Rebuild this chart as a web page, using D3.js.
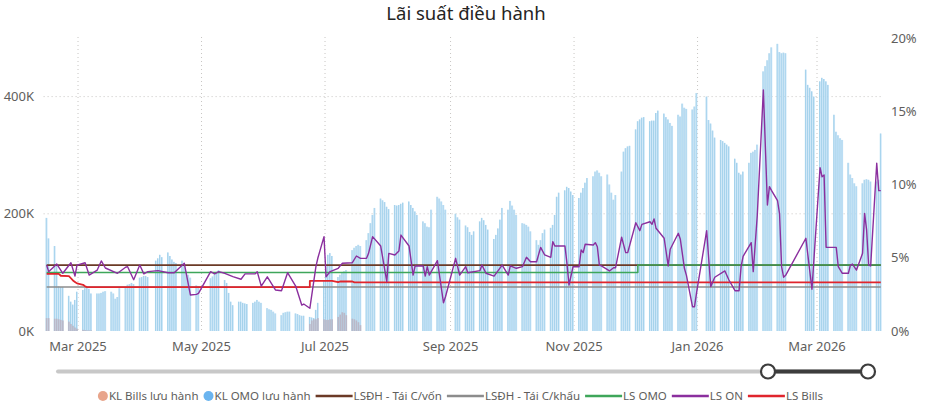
<!DOCTYPE html>
<html>
<head>
<meta charset="utf-8">
<script src="https://cdn.jsdelivr.net/npm/d3@7"></script>
<style>
body { margin: 0; background: #fff; }
svg text { font-family: "Segoe UI", "Noto Sans", sans-serif; }
</style>
</head>
<body>
<script>
// ---- DATA ----
const firstDay = "2025-02-13";
const lastDay = "2026-04-01";
const holidays = ["2025-04-07", "2025-04-30", "2025-05-01", "2025-05-02", "2025-09-01", "2025-09-02",
  "2026-01-01", "2026-01-02", "2026-02-16", "2026-02-17", "2026-02-18", "2026-02-19", "2026-02-20"];

// KL OMO lưu hành (nghìn tỷ), one value per trading day, rows = weeks
const omoOutstanding = [
  193, 158,
  145, 112, 76, 75, 75,
  60, 50, 45, 53, 67,
  70, 73, 75, 72, 64,
  64, 64, 65, 67, 68,
  67, 64, 55, 58, 73,
  75, 79, 80, 82, 80,
  91, 92, 94, 94, 92,
  120, 124, 130, 126,
  134, 128, 122, 118, 116,
  120, 113, 101, 96, 91,
  78, 76,
  90, 93, 97, 101, 104,
  87, 82, 65, 50, 44,
  50, 50, 48, 47, 46,
  48, 50, 53, 50, 48,
  39, 37, 36, 33, 30,
  27, 31, 32, 33, 33,
  30, 29, 27, 26, 26,
  24, 23, 22, 36, 48,
  87, 110, 130, 133, 128,
  92, 96, 100, 102, 104,
  138, 142, 145, 147, 145,
  155, 167, 184, 198, 210,
  226, 223, 220, 212, 208,
  215, 214, 215, 217, 219,
  221, 215, 210, 204, 198,
  187, 184, 178, 177, 207,
  229, 226, 221, 215, 207,
  200, 194, 190,
  180, 177, 169, 164, 170,
  187, 193, 189, 181, 173,
  157, 164, 175, 190, 210,
  207, 222, 214, 207, 198,
  184, 183, 181, 178, 170,
  155, 147, 155, 167, 173,
  176, 181, 198, 229, 236,
  240, 246, 244, 238, 232,
  227, 236, 244, 253, 261,
  264, 272, 274, 270, 264,
  267, 250, 236, 224, 232,
  272, 306, 312, 315, 316,
  344, 358, 361, 364, 365,
  358, 359, 359, 372, 376,
  371, 365, 361, 355, 350,
  369, 366, 388, 381, 379,
  378, 383, 406,
  400, 360, 354, 342, 330,
  326, 324, 321, 318, 315,
  294, 287, 270, 267, 272,
  287, 304, 306, 309, 318,
  443, 452, 462, 474, 484,
  490, 476, 474, 475, 474,
  446, 420, 415, 409, 400,
  426, 432, 430, 426, 420,
  369, 340, 334, 329, 326,
  287, 267, 261, 252, 247,
  252, 258, 259, 258, 255,
  255, 258, 337
];

// KL Bills lưu hành: two runs of consecutive trading days
const billsEarlyStart = "2025-02-13";
const billsEarly = [22, 22, 21, 21, 20, 19, 18, 16, 12, 9, 6, 4, 2, 1.5, 1, 1, 1];
const billsMidStart = "2025-06-23";
const billsMid = [12, 18, 20, 20, 22, 20, 19, 19, 20, 20, 24, 28, 32, 31, 27, 21, 20, 18, 15, 10];

// LS ON (%)
const onDates = ["2025-02-13", "2025-02-14", "2025-02-18", "2025-02-21", "2025-02-25", "2025-02-27", "2025-02-28",
  "2025-03-04", "2025-03-06", "2025-03-10", "2025-03-12", "2025-03-14", "2025-03-20", "2025-03-24", "2025-03-25",
  "2025-03-28", "2025-03-31", "2025-04-02", "2025-04-04", "2025-04-09", "2025-04-14", "2025-04-17", "2025-04-22",
  "2025-04-25", "2025-04-28", "2025-04-29", "2025-05-05", "2025-05-07", "2025-05-09", "2025-05-12", "2025-05-16",
  "2025-05-20", "2025-05-22", "2025-05-27", "2025-05-28", "2025-05-30", "2025-06-02", "2025-06-06", "2025-06-09",
  "2025-06-12", "2025-06-16", "2025-06-19", "2025-06-20", "2025-06-23", "2025-06-26", "2025-06-27", "2025-06-30",
  "2025-07-01", "2025-07-03", "2025-07-07", "2025-07-09", "2025-07-14", "2025-07-16", "2025-07-18", "2025-07-21",
  "2025-07-22", "2025-07-24", "2025-07-28", "2025-07-31", "2025-08-01", "2025-08-04", "2025-08-06", "2025-08-07",
  "2025-08-11", "2025-08-13", "2025-08-14", "2025-08-18", "2025-08-19", "2025-08-20", "2025-08-21", "2025-08-25",
  "2025-08-28", "2025-08-29", "2025-09-03", "2025-09-05", "2025-09-08", "2025-09-09", "2025-09-15", "2025-09-16",
  "2025-09-18", "2025-09-22", "2025-09-26", "2025-09-29", "2025-09-30", "2025-10-03", "2025-10-06", "2025-10-08",
  "2025-10-10", "2025-10-13", "2025-10-15", "2025-10-17", "2025-10-20", "2025-10-21", "2025-10-22", "2025-10-27",
  "2025-10-28", "2025-10-29", "2025-10-31", "2025-11-03", "2025-11-04", "2025-11-05", "2025-11-06", "2025-11-10",
  "2025-11-11", "2025-11-12", "2025-11-13", "2025-11-14", "2025-11-18", "2025-11-20", "2025-11-21", "2025-11-24",
  "2025-11-26", "2025-11-27", "2025-12-01", "2025-12-03", "2025-12-04", "2025-12-08", "2025-12-09", "2025-12-10",
  "2025-12-11", "2025-12-15", "2025-12-17", "2025-12-18", "2025-12-22", "2025-12-23", "2025-12-25", "2025-12-26",
  "2025-12-29", "2025-12-30", "2025-12-31", "2026-01-05", "2026-01-07", "2026-01-09", "2026-01-14", "2026-01-16",
  "2026-01-19", "2026-01-21", "2026-01-22", "2026-01-23", "2026-01-27", "2026-01-28", "2026-01-30", "2026-02-02",
  "2026-02-04", "2026-02-05", "2026-02-06", "2026-02-09", "2026-02-10", "2026-02-11", "2026-02-12", "2026-02-13",
  "2026-02-23", "2026-02-26", "2026-03-02", "2026-03-03", "2026-03-04", "2026-03-05", "2026-03-10", "2026-03-11",
  "2026-03-13", "2026-03-16", "2026-03-17", "2026-03-18", "2026-03-20", "2026-03-23", "2026-03-24", "2026-03-25",
  "2026-03-26", "2026-03-27", "2026-03-30", "2026-03-31", "2026-04-01"];
const onRates = [4.5, 4.05, 4.57, 3.94, 4.66, 3.75, 4.5,
  4.66, 3.82, 4.16, 4.78, 4.3, 3.94, 4.35, 4.39,
  3.5, 4.5, 3.9, 4.05, 4.12, 3.98, 3.98, 4.62,
  2.46, 2.5, 2.57, 4.05, 3.9, 4.05, 3.94, 3.71,
  3.53, 3.9, 3.9, 4.05, 3.07, 3.7, 2.8, 2.75,
  3.98, 3.07, 1.77, 1.84, 1.55, 4.39, 5.0, 6.44,
  3.7, 4.05, 4.28, 4.62, 4.66, 5.12, 4.96, 4.96,
  5.3, 6.44, 5.8, 3.37, 5.3, 5.19, 5.46, 6.55,
  5.8, 3.82, 4.44, 4.44, 3.75, 4.39, 3.82, 4.8,
  1.93, 2.34, 4.96, 3.82, 4.39, 3.98, 4.12, 4.5,
  3.94, 3.75, 4.5, 3.82, 4.44, 4.28, 4.39, 5.03,
  4.73, 4.73, 5.71, 5.19, 5.03, 6.1, 5.8, 5.8,
  4.62, 3.14, 4.39, 4.39, 5.53, 5.35, 5.92, 5.87,
  6.03, 5.75, 4.5, 4.44, 4.1, 4.32, 4.32, 6.4,
  5.35, 5.35, 7.39, 6.85, 7.28, 7.46, 7.28, 7.65,
  7.01, 6.33, 4.44, 5.58, 6.67, 6.26, 4.28, 3.8,
  1.66, 1.66, 2.6, 6.85, 3.03, 3.67, 4.1, 3.48,
  2.75, 2.75, 4.39, 5.1, 6.03, 4.05, 7.9, 16.45,
  8.6, 9.85, 9.6, 8.9, 8.0, 4.39, 3.67, 3.8,
  6.33, 2.85, 11.15, 10.53, 10.65, 5.71, 5.71, 4.39,
  3.94, 3.94, 4.5, 4.57, 4.16, 5.3, 8.03, 6.9,
  4.5, 4.44, 11.45, 9.58, 9.58];

// LS Bills (%)
const billsRateDates = ["2025-02-13", "2025-02-19", "2025-02-20", "2025-02-24", "2025-02-25", "2025-02-26", "2025-02-27",
  "2025-02-28", "2025-03-03", "2025-03-04", "2025-03-05", "2025-06-23", "2025-06-23", "2025-07-04", "2025-07-07",
  "2025-07-08", "2025-07-14", "2025-07-15", "2026-04-01"];
const billsRates = [3.9, 3.9, 3.77, 3.75, 3.6, 3.45, 3.35, 3.25, 3.15, 3.05, 3.0, 3.0, 3.42, 3.42, 3.33,
  3.38, 3.38, 3.32, 3.32];

// LS OMO (%)
const omoRateDates = ["2025-02-13", "2025-12-02", "2025-12-02", "2026-04-01"];
const omoRates = [4.0, 4.0, 4.5, 4.5];

// LSĐH
const refinanceRate = 4.5;   // Tái C/vốn
const rediscountRate = 3.0;  // Tái C/khấu

const legendItems = [
  { label: "KL Bills lưu hành", type: "dot", color: "#e8a58b" },
  { label: "KL OMO lưu hành", type: "dot", color: "#6ab4ef" },
  { label: "LSĐH - Tái C/vốn", type: "line", color: "#6b3a26" },
  { label: "LSĐH - Tái C/khấu", type: "line", color: "#8c8c8c" },
  { label: "LS OMO", type: "line", color: "#3ea65a" },
  { label: "LS ON", type: "line", color: "#8b2f9e" },
  { label: "LS Bills", type: "line", color: "#e0252c" }
];

// ---- LAYOUT ----
const width = 932, height = 418;
const plot = { left: 43.6, right: 881.8, top: 38, bottom: 331 };

const parse = d3.utcParse("%Y-%m-%d");
const fmt = d3.utcFormat("%Y-%m-%d");

const tradingDays = d3.utcDays(parse(firstDay), d3.utcDay.offset(parse(lastDay), 1))
  .filter(d => d.getUTCDay() % 6 !== 0 && !holidays.includes(fmt(d)));
if (tradingDays.length !== omoOutstanding.length) console.warn("length mismatch", tradingDays.length, omoOutstanding.length);

const bars = tradingDays.map((d, i) => ({ date: d, omo: omoOutstanding[i] || 0, bills: 0 }));
[[billsEarlyStart, billsEarly], [billsMidStart, billsMid]].forEach(([start, vals]) => {
  const i0 = tradingDays.findIndex(d => fmt(d) === start);
  vals.forEach((v, k) => { if (bars[i0 + k]) bars[i0 + k].bills = v; });
});

const x = d3.scaleUtc()
  .domain([parse("2025-02-12"), parse("2026-04-02")])
  .range([plot.left, plot.right]);
const dayW = x(parse("2025-03-02")) - x(parse("2025-03-01"));
const xc = d => x(d) + dayW / 2;
const yL = d3.scaleLinear().domain([0, 500]).range([plot.bottom, plot.top]);
const yR = d3.scaleLinear().domain([0, 20]).range([plot.bottom, plot.top]);

const svg = d3.select("body").append("svg")
  .attr("width", width).attr("height", height);

// title
svg.append("text")
  .attr("x", 466).attr("y", 20)
  .attr("text-anchor", "middle")
  .attr("font-size", 18.5)
  .attr("fill", "#252423")
  .text("Lãi suất điều hành");

// grid
const monthTicks = x.ticks(d3.utcMonth.every(2));
svg.append("g").selectAll("line").data(monthTicks).join("line")
  .attr("x1", d => x(d)).attr("x2", d => x(d))
  .attr("y1", plot.top - 1).attr("y2", plot.bottom)
  .attr("stroke", "#c8c6c4").attr("stroke-width", 1).attr("stroke-dasharray", "1,3");
svg.append("g").selectAll("line").data([200, 400]).join("line")
  .attr("x1", plot.left).attr("x2", plot.right)
  .attr("y1", d => yL(d)).attr("y2", d => yL(d))
  .attr("stroke", "#c8c6c4").attr("stroke-width", 1).attr("stroke-dasharray", "1,3");

// bars
const barG = svg.append("g");
barG.selectAll("rect.omo").data(bars).join("rect")
  .attr("class", "omo")
  .attr("x", d => x(d.date) + 0.2)
  .attr("width", dayW - 0.4)
  .attr("y", d => yL(d.omo))
  .attr("height", d => yL(0) - yL(d.omo))
  .attr("fill", "#c6e3f8");
barG.selectAll("line.edge").data(bars).join("line")
  .attr("class", "edge")
  .attr("x1", d => x(d.date) + 0.5).attr("x2", d => x(d.date) + 0.5)
  .attr("y1", d => yL(d.omo)).attr("y2", yL(0))
  .attr("stroke", "#86c3e0").attr("stroke-width", 0.6);
barG.selectAll("rect.bills").data(bars.filter(d => d.bills > 0)).join("rect")
  .attr("class", "bills")
  .attr("x", d => x(d.date) + 0.2)
  .attr("width", dayW - 0.4)
  .attr("y", d => yL(d.bills))
  .attr("height", d => yL(0) - yL(d.bills))
  .attr("fill", "#bab8c8");

// lines
const line = d3.line().x(d => xc(d.date)).y(d => yR(d.v));
const pts = (dates, vals) => dates.map((d, i) => ({ date: parse(d), v: vals[i] }));
const flat = v => pts([firstDay, lastDay], [v, v]);

const series = [
  { data: flat(rediscountRate), color: "#8c8c8c", w: 1.5 },
  { data: flat(refinanceRate), color: "#6b3a26", w: 1.8 },
  { data: pts(omoRateDates, omoRates), color: "#3ea65a", w: 1.5 },
  { data: pts(billsRateDates, billsRates), color: "#e0252c", w: 1.8 },
  { data: pts(onDates, onRates), color: "#8b2f9e", w: 1.4 }
];
svg.append("g").selectAll("path").data(series).join("path")
  .attr("d", d => line(d.data))
  .attr("fill", "none")
  .attr("stroke", d => d.color)
  .attr("stroke-width", d => d.w)
  .attr("stroke-linejoin", "round");

// axes
const axisText = sel => sel.attr("font-size", 13).attr("fill", "#605e5c");
svg.append("g").selectAll("text").data([0, 200, 400]).join("text")
  .attr("x", 34).attr("y", d => yL(d)).attr("dy", "0.35em")
  .attr("text-anchor", "end").text(d => d + "K").call(axisText);
svg.append("g").selectAll("text").data(d3.range(0, 21, 5)).join("text")
  .attr("x", 891).attr("y", d => yR(d)).attr("dy", "0.35em")
  .attr("text-anchor", "start").text(d => d + "%").call(axisText);
svg.append("g").selectAll("text").data(monthTicks).join("text")
  .attr("x", d => x(d)).attr("y", 351)
  .attr("text-anchor", "middle").text(d3.utcFormat("%b %Y")).call(axisText);

// date slider
const slider = { y: 371.5, x0: 58, a: 768, b: 868 };
svg.append("line").attr("x1", slider.x0).attr("x2", slider.b).attr("y1", slider.y).attr("y2", slider.y)
  .attr("stroke", "#c8c8c8").attr("stroke-width", 4).attr("stroke-linecap", "round");
svg.append("line").attr("x1", slider.a).attr("x2", slider.b).attr("y1", slider.y).attr("y2", slider.y)
  .attr("stroke", "#3d3d3d").attr("stroke-width", 4);
svg.selectAll("circle.handle").data([slider.a, slider.b]).join("circle")
  .attr("class", "handle")
  .attr("cx", d => d).attr("cy", slider.y).attr("r", 7)
  .attr("fill", "#fff").attr("stroke", "#3d3d3d").attr("stroke-width", 2.2);

// legend
const lg = svg.append("g").attr("transform", "translate(0,396)");
let cx = 0;
const items = legendItems.map(it => {
  const g = lg.append("g");
  let mw;
  if (it.type === "dot") {
    g.append("circle").attr("cx", 5).attr("cy", 0).attr("r", 5).attr("fill", it.color);
    mw = 11;
  } else {
    g.append("line").attr("x1", 0).attr("x2", 37).attr("y1", 0).attr("y2", 0)
      .attr("stroke", it.color).attr("stroke-width", 2.5);
    mw = 38;
  }
  const t = g.append("text").attr("x", mw).attr("dy", "0.35em")
    .attr("font-size", 11.5).attr("fill", "#605e5c").text(it.label);
  const w = mw + t.node().getComputedTextLength();
  g.attr("transform", `translate(${cx},0)`);
  cx += w + 5;
  return g;
});
const total = cx - 5;
lg.attr("transform", `translate(${460.5 - total / 2},396)`);
</script>
</body>
</html>
